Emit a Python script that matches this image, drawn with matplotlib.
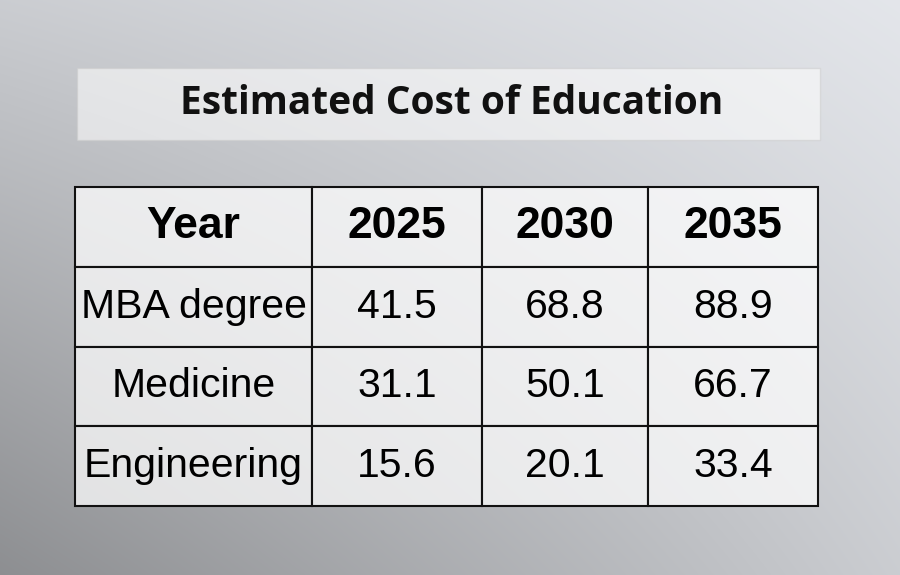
import numpy as np
import matplotlib
matplotlib.use("Agg")
import matplotlib.pyplot as plt
from matplotlib.patches import Rectangle

title = "Estimated Cost of Education"
columns = ["Year", "2025", "2030", "2035"]
rows = ["MBA degree", "Medicine", "Engineering"]
values = [[41.5, 68.8, 88.9],
          [31.1, 50.1, 66.7],
          [15.6, 20.1, 33.4]]

fig = plt.figure(figsize=(9, 5.75), dpi=100)
bg = fig.add_axes([0, 0, 1, 1])
bg.set_axis_off()
yy, xx = np.mgrid[0:575, 0:900]
base = 0.82 - 0.25 * (yy / 575) * (1 - xx / 900) + 0.1 * (xx / 900) * (1 - yy / 575)
img = np.dstack([base * 0.97, base * 0.98, base * 1.0])
bg.imshow(np.clip(img, 0, 1), extent=[0, 900, 575, 0], aspect="auto")
bg.set_xlim(0, 900); bg.set_ylim(575, 0)

bg.add_patch(Rectangle((77, 68), 743, 72, facecolor="white", alpha=0.55,
                       edgecolor="#cccccc", lw=1))
bg.text(452, 104, title, ha="center", va="center", fontsize=28,
        fontweight="bold", family="Open Sans", color="#111111")

ax = fig.add_axes([75/900, 1 - 506/575, (818-75)/900, (506-187)/575])
ax.set_axis_off()
cell_text = [[r] + [f"{v:.1f}" for v in vals] for r, vals in zip(rows, values)]
tbl = ax.table(cellText=cell_text, colLabels=columns, bbox=[0, 0, 1, 1],
               cellLoc="center",
               colWidths=[237, 170, 166, 170])
tbl.auto_set_font_size(False)
for (r, c), cell in tbl.get_celld().items():
    cell.set_edgecolor("#111111")
    cell.set_linewidth(1.5)
    cell.set_facecolor((1, 1, 1, 0.72))
    cell.PAD = 0.01
    t = cell.get_text()
    t.set_family("Liberation Sans")
    if r == 0:
        t.set_fontsize(32); t.set_fontweight("bold")
    else:
        t.set_fontsize(29.5)
fig.savefig("out.png", dpi=100)
